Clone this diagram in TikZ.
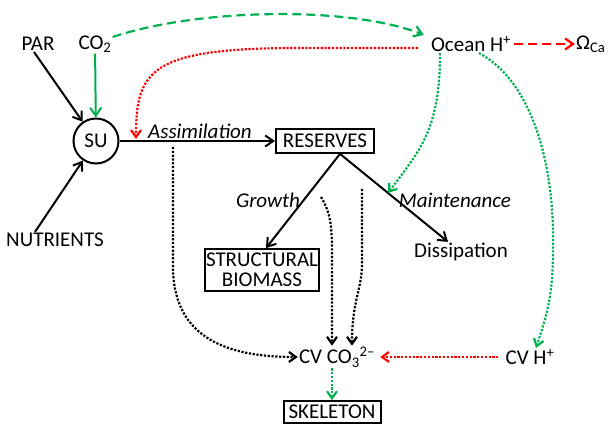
\documentclass[tikz,border=0pt]{standalone}
\usepackage{fontspec}
\setmainfont{Carlito}
\usetikzlibrary{arrows.meta}
\definecolor{ogreen}{RGB}{0,176,80}
\tikzset{
  lbl/.style={font=\fontsize{21}{23}\selectfont, inner sep=1pt},
  itlbl/.style={lbl, font=\fontsize{21}{23}\selectfont\itshape},
  box/.style={lbl, draw, line width=2pt, inner xsep=5pt, inner ysep=5pt, align=center},
  flow/.style={line width=2pt, -{Straight Barb[length=8pt,width=11pt]}},
  dotflow/.style={line width=2.2pt, dash pattern=on 2.2pt off 1.6pt, -{Straight Barb[length=7pt,width=10pt]}},
  dashflow/.style={line width=2.2pt, dash pattern=on 9pt off 5pt, -{Straight Barb[length=8pt,width=11pt]}},
}
\begin{document}
\begin{tikzpicture}[x=1pt,y=-1pt]
\useasboundingbox (0,0) rectangle (609,435);
% inputs and uptake
\node[lbl] (par) at (38,44) {PAR};
\node[lbl] (co2) at (95,44) {CO\textsubscript{2}};
\node[lbl, draw, circle, line width=2pt, minimum size=45pt, inner sep=0pt] (su) at (96,141) {SU};
\node[lbl] (nut) at (55,240) {NUTRIENTS};
\node[box, inner xsep=7pt] (res) at (325,141) {RESERVES};
\node[itlbl] (assim) at (200,131) {Assimilation};
% ocean chemistry
\node[lbl] (ocean) at (471,44) {Ocean H\textsuperscript{+}};
\node[lbl, anchor=west] (omega) at (575,44) {Ω\textsubscript{Ca}};
% allocation
\node[box, inner xsep=1pt, inner ysep=4pt] (struct) at (262,270) {STRUCTURAL\\[-3pt]BIOMASS};
\node[itlbl] (growth) at (268,200) {Growth};
\node[itlbl] (maint) at (455,200) {Maintenance};
\node[lbl] (diss) at (461,252) {Dissipation};
% calcifying space
\node[lbl] (cvco) at (337,357) {CV CO\textsubscript{3}\textsuperscript{2–}};
\node[lbl] (cvh) at (530,357) {CV H\textsuperscript{+}};
\node[box, inner ysep=4pt] (skel) at (332,412) {SKELETON};

\coordinate (split) at ([xshift=15pt]res.south);
\coordinate (hit) at (136,139);
\coordinate (mt) at (388,193);

\draw[flow] ([xshift=-4pt]par.south) -- (su);
\draw[flow, ogreen] (co2) -- (su);
\draw[flow] ([xshift=-20pt]nut.north) -- (su);
\draw[flow] (su) -- (res);
\draw[flow] (split) -- ([xshift=4pt]struct.north);
\draw[flow] (split) -- ([xshift=-13pt]diss.north);

\draw[dashflow, ogreen] ([yshift=7pt]co2.east) .. controls (200,8) and (350,6) .. ([xshift=-6pt]ocean.north west);
\draw[dashflow, red] ([xshift=2pt]ocean.east) -- (omega.west);
\draw[dotflow, red] ([xshift=-12pt,yshift=-4pt]ocean.west) -- (300,48) .. controls (150,48) and (136,70) .. (hit);
\draw[dotflow, ogreen] ([xshift=-31pt]ocean.south) .. controls (440,130) and (420,150) .. (mt);
\draw[dotflow, ogreen] ([xshift=8pt]ocean.south) .. controls (530,80) and (555,160) .. (553,250) .. controls (553,300) and (545,320) .. ([xshift=6pt]cvh.north);

\draw[dotflow] (173,147) -- (173,270) .. controls (175,340) and (230,357) .. (cvco.west);
\draw[dotflow] (321,197) .. controls (332,215) and (332,230) .. (332,260) -- ([xshift=-5pt]cvco.north);
\draw[dotflow] (362,189) -- (362,263) .. controls (362,290) and (352,300) .. ([xshift=15pt]cvco.north);
\draw[dotflow, red] ([xshift=-6pt]cvh.west) -- ([xshift=4pt]cvco.east);
\draw[dotflow, ogreen] ([xshift=-5pt]cvco.south) -- (skel.north);
\end{tikzpicture}
\end{document}
